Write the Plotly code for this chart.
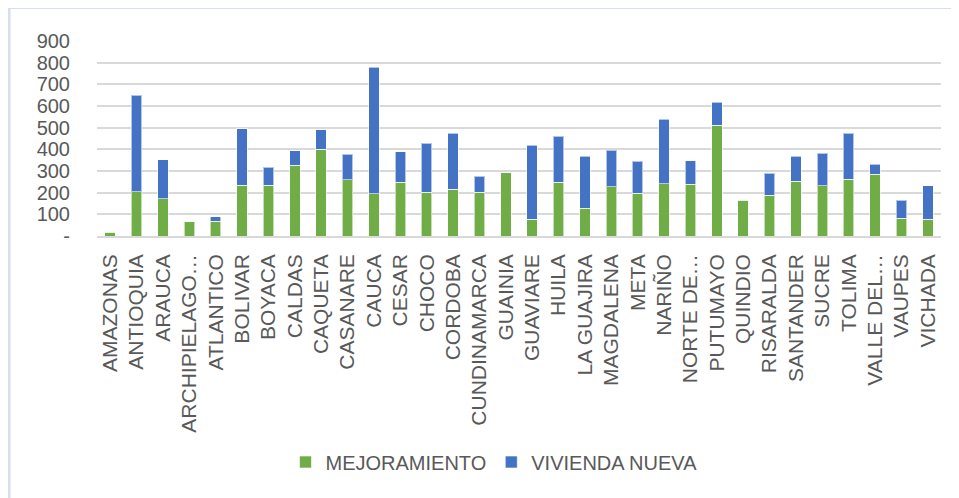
import plotly.graph_objects as go

categories = ["AMAZONAS", "ANTIOQUIA", "ARAUCA", "ARCHIPIELAGO…", "ATLANTICO", "BOLIVAR",
              "BOYACA", "CALDAS", "CAQUETA", "CASANARE", "CAUCA", "CESAR", "CHOCO",
              "CORDOBA", "CUNDINAMARCA", "GUAINIA", "GUAVIARE", "HUILA", "LA GUAJIRA",
              "MAGDALENA", "META", "NARIÑO", "NORTE DE…", "PUTUMAYO", "QUINDIO",
              "RISARALDA", "SANTANDER", "SUCRE", "TOLIMA", "VALLE DEL…", "VAUPES", "VICHADA"]

mejoramiento = [18, 204, 171, 65, 69, 235, 235, 326, 400, 260, 195, 248, 201,
                215, 201, 291, 78, 248, 128, 228, 197, 242, 238, 511, 166,
                188, 252, 231, 262, 286, 81, 77]

vivienda_nueva = [0, 445, 181, 0, 20, 259, 83, 68, 91, 118, 583, 140, 227,
                  260, 74, 0, 340, 213, 241, 167, 149, 298, 110, 107, 0,
                  101, 117, 150, 213, 45, 84, 154]

y_ticks = [0, 100, 200, 300, 400, 500, 600, 700, 800, 900]
y_tick_labels = ["-", "100", "200", "300", "400", "500", "600", "700", "800", "900"]

FONT = "Liberation Sans, Arial, sans-serif"
TXT = "#595959"

fig = go.Figure()
fig.add_trace(go.Bar(x=categories, y=mejoramiento, name="MEJORAMIENTO",
                     marker=dict(color="#70AD47", line=dict(color="rgba(255,255,255,0.6)", width=1))))
fig.add_trace(go.Bar(x=categories, y=vivienda_nueva, name="VIVIENDA NUEVA",
                     marker=dict(color="#4472C4", line=dict(color="rgba(255,255,255,0.6)", width=1))))

# page offset (browser body margin)
OFF = 8
W, H = 959 - OFF, 498 - OFF
L, R, T, B = 97 - OFF, 18, 41 - OFF, 498 - 236
pw, ph = W - L - R, H - T - B

def px(x):
    return (x - OFF - L) / pw

def py(y):
    return (H - B - (y - OFF)) / ph

fig.update_layout(
    width=W, height=H,
    barmode="stack", bargap=0.6,
    margin=dict(l=L, r=R, t=T, b=B, autoexpand=False),
    paper_bgcolor="white", plot_bgcolor="white",
    font=dict(family=FONT, color=TXT, size=20),
    showlegend=True,
    legend=dict(orientation="h", x=px(494), xanchor="center", y=py(462), yanchor="middle",
                font=dict(size=20, color=TXT), itemwidth=30, traceorder="normal",
                bgcolor="rgba(0,0,0,0)"),
    xaxis=dict(tickangle=-90, showgrid=False, showline=True, linecolor="#d9d9d9", linewidth=1.5,
               tickfont=dict(size=21, color=TXT), ticks="", ticklabelstandoff=8),
    yaxis=dict(range=[0, 900], tickvals=y_ticks, ticktext=y_tick_labels,
               showgrid=True, gridcolor="#d9d9d9", gridwidth=1.5, zeroline=False,
               tickfont=dict(size=20, color=TXT), ticks="", ticklabelstandoff=26),
    shapes=[
        dict(type="line", xref="paper", yref="paper", x0=px(9), x1=px(9), y0=py(8), y1=py(498),
             line=dict(color="#d6dff0", width=3)),
        dict(type="line", xref="paper", yref="paper", x0=px(8), x1=px(959), y0=py(8), y1=py(8),
             line=dict(color="#d6dff0", width=2)),
    ],
)

fig.write_html("out.html")
